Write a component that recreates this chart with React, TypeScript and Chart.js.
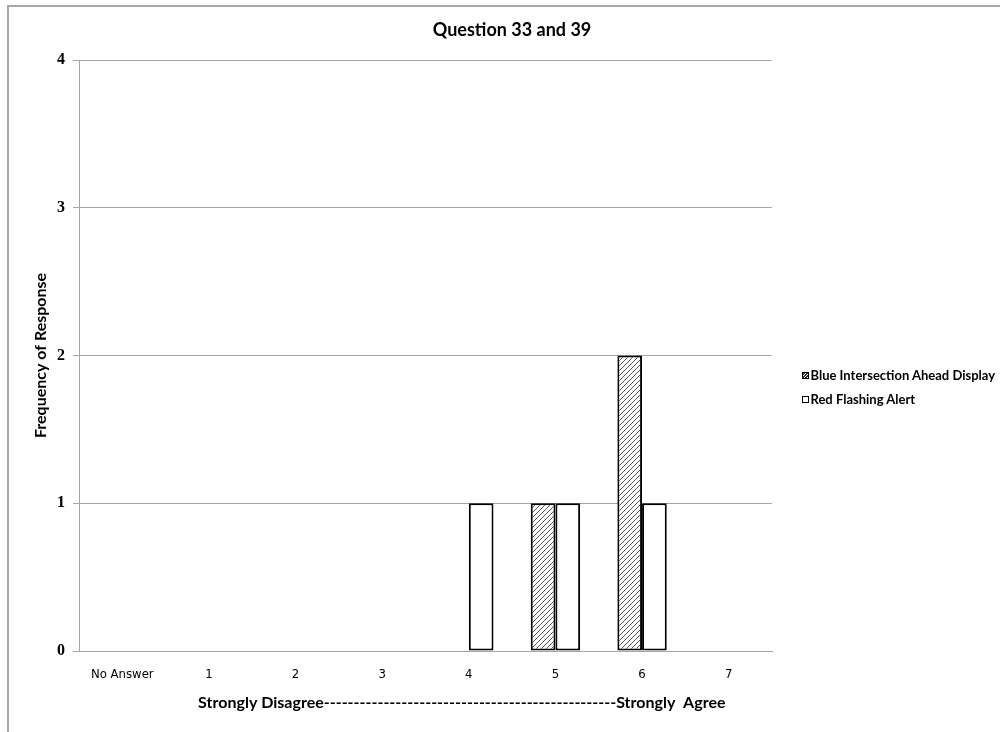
import React, { useEffect, useRef } from "react";
import { Chart, registerables } from "chart.js";

Chart.register(...registerables);

const categories = ["No Answer", "1", "2", "3", "4", "5", "6", "7"];
const blueValues = [0, 0, 0, 0, 0, 1, 2, 0];
const redValues = [0, 0, 0, 0, 1, 1, 1, 0];
const seriesNames = ["Blue Intersection Ahead Display", "Red Flashing Alert"];
const yMin = 0;
const yMax = 4;
const yStep = 1;
const chartTitle = "Question 33 and 39";
const yTitle = "Frequency of Response";
const xTitle =
  "Strongly Disagree-------------------------------------------------Strongly  Agree";

const sansFamily = "Lato, 'Open Sans', sans-serif";

function makeHatch(): CanvasPattern | string {
  const c = document.createElement("canvas");
  c.width = 5;
  c.height = 5;
  const g = c.getContext("2d");
  if (!g) return "#ccc";
  g.fillStyle = "#ffffff";
  g.fillRect(0, 0, 5, 5);
  g.strokeStyle = "#555555";
  g.lineWidth = 1;
  g.beginPath();
  g.moveTo(-1, 6);
  g.lineTo(6, -1);
  g.moveTo(-4, 4);
  g.lineTo(4, -4);
  g.moveTo(1, 9);
  g.lineTo(9, 1);
  g.stroke();
  const p = g.createPattern(c, "repeat");
  return p || "#ccc";
}

const xTitlePlugin = {
  id: "xTitleCentered",
  afterDraw(chart: any) {
    const xs = chart.scales.x;
    if (!xs) return;
    const ctx = chart.ctx;
    const cx = (xs.getPixelForValue(1) + xs.getPixelForValue(7)) / 2 - 7;
    ctx.save();
    ctx.font = `bold 16px ${sansFamily}`;
    ctx.fillStyle = "#000000";
    ctx.textAlign = "center";
    ctx.textBaseline = "middle";
    ctx.fillText(xTitle, cx, xs.top + 52);
    ctx.restore();
  },
};

export default function App() {
  const ref = useRef<HTMLCanvasElement>(null);

  useEffect(() => {
    if (!ref.current) return;
    const hatch = makeHatch();
    const chart = new Chart(ref.current, {
      type: "bar",
      data: {
        labels: categories,
        datasets: [
          {
            label: seriesNames[0],
            data: blueValues,
            backgroundColor: hatch as any,
            borderColor: "#000000",
            borderWidth: 2,
            borderSkipped: false,
            categoryPercentage: 0.57,
            barPercentage: 1,
          },
          {
            label: seriesNames[1],
            data: redValues,
            backgroundColor: "#ffffff",
            borderColor: "#000000",
            borderWidth: 2,
            borderSkipped: false,
            categoryPercentage: 0.57,
            barPercentage: 1,
          },
        ],
      },
      plugins: [xTitlePlugin],
      options: {
        responsive: false,
        animation: false,
        devicePixelRatio: 1,
        layout: { padding: { left: 24, right: 0, top: 0, bottom: 0 } },
        plugins: {
          legend: { display: false },
          tooltip: { enabled: false },
          title: {
            display: true,
            text: chartTitle,
            color: "#000000",
            font: { family: sansFamily, size: 18, weight: "bold", lineHeight: 1.2 },
            padding: { top: 19, bottom: 19.4 },
          },
        },
        scales: {
          x: {
            grid: { display: true, drawOnChartArea: false, drawTicks: false, tickLength: 0, color: "rgba(0,0,0,0)" },
            border: { display: true, color: "#a6a6a6", width: 1 },
            ticks: {
              color: "#000000",
              padding: 16,
              autoSkip: false,
              maxRotation: 0,
              font: { family: "'DejaVu Sans Condensed', 'Liberation Sans Narrow', Lato, sans-serif", size: 13 },
            },
            afterFit: (s: any) => {
              s.height = 81;
            },
          },
          y: {
            min: yMin,
            max: yMax,
            grid: { color: "#a6a6a6", drawTicks: true, tickLength: 6, lineWidth: 1 },
            border: { display: true, color: "#a6a6a6", width: 1 },
            ticks: {
              stepSize: yStep,
              color: "#000000",
              padding: 8,
              font: { family: "'Liberation Serif', 'DejaVu Serif', serif", size: 16, weight: "bold" },
            },
            title: {
              display: true,
              text: yTitle,
              color: "#000000",
              font: { family: sansFamily, size: 16, weight: "bold", lineHeight: 1.2 },
              padding: { top: 7, bottom: 0 },
            },
            afterFit: (s: any) => {
              s.width = 55;
            },
          },
          yR: {
            position: "right",
            display: true,
            grid: { display: false, drawTicks: false },
            border: { display: false },
            ticks: { display: false },
            afterFit: (s: any) => {
              s.width = 228;
            },
          },
        },
      },
    });
    return () => chart.destroy();
  }, []);

  const legendBox = (hatched: boolean): React.CSSProperties => ({
    width: 5,
    height: 5,
    border: "1.5px solid #000",
    marginRight: 1.5,
    background: hatched
      ? "repeating-linear-gradient(-45deg, #ffffff 0px, #ffffff 1.2px, #333333 1.2px, #333333 2.2px)"
      : "#ffffff",
    flex: "0 0 auto",
  });

  return (
    <div
      style={{
        position: "absolute",
        left: 0,
        top: 0,
        width: 1000,
        height: 732,
        overflow: "hidden",
        background: "#ffffff",
      }}
    >
      <div
        style={{
          position: "absolute",
          left: 7,
          top: 5,
          width: 1100,
          height: 800,
          borderLeft: "2px solid #a8a8a8",
          borderTop: "2px solid #a8a8a8",
        }}
      />
      <canvas
        ref={ref}
        width={1000}
        height={732}
        style={{ position: "absolute", left: 0, top: 0, width: 1000, height: 732 }}
      />
      <div
        style={{
          position: "absolute",
          left: 802,
          top: 363,
          fontFamily: sansFamily,
          fontWeight: "bold",
          fontSize: 13,
          color: "#000",
        }}
      >
        {seriesNames.map((n, i) => (
          <div key={n} style={{ display: "flex", alignItems: "center", height: 24, whiteSpace: "nowrap" }}>
            <div style={legendBox(i === 0)} />
            <span>{n}</span>
          </div>
        ))}
      </div>
    </div>
  );
}
